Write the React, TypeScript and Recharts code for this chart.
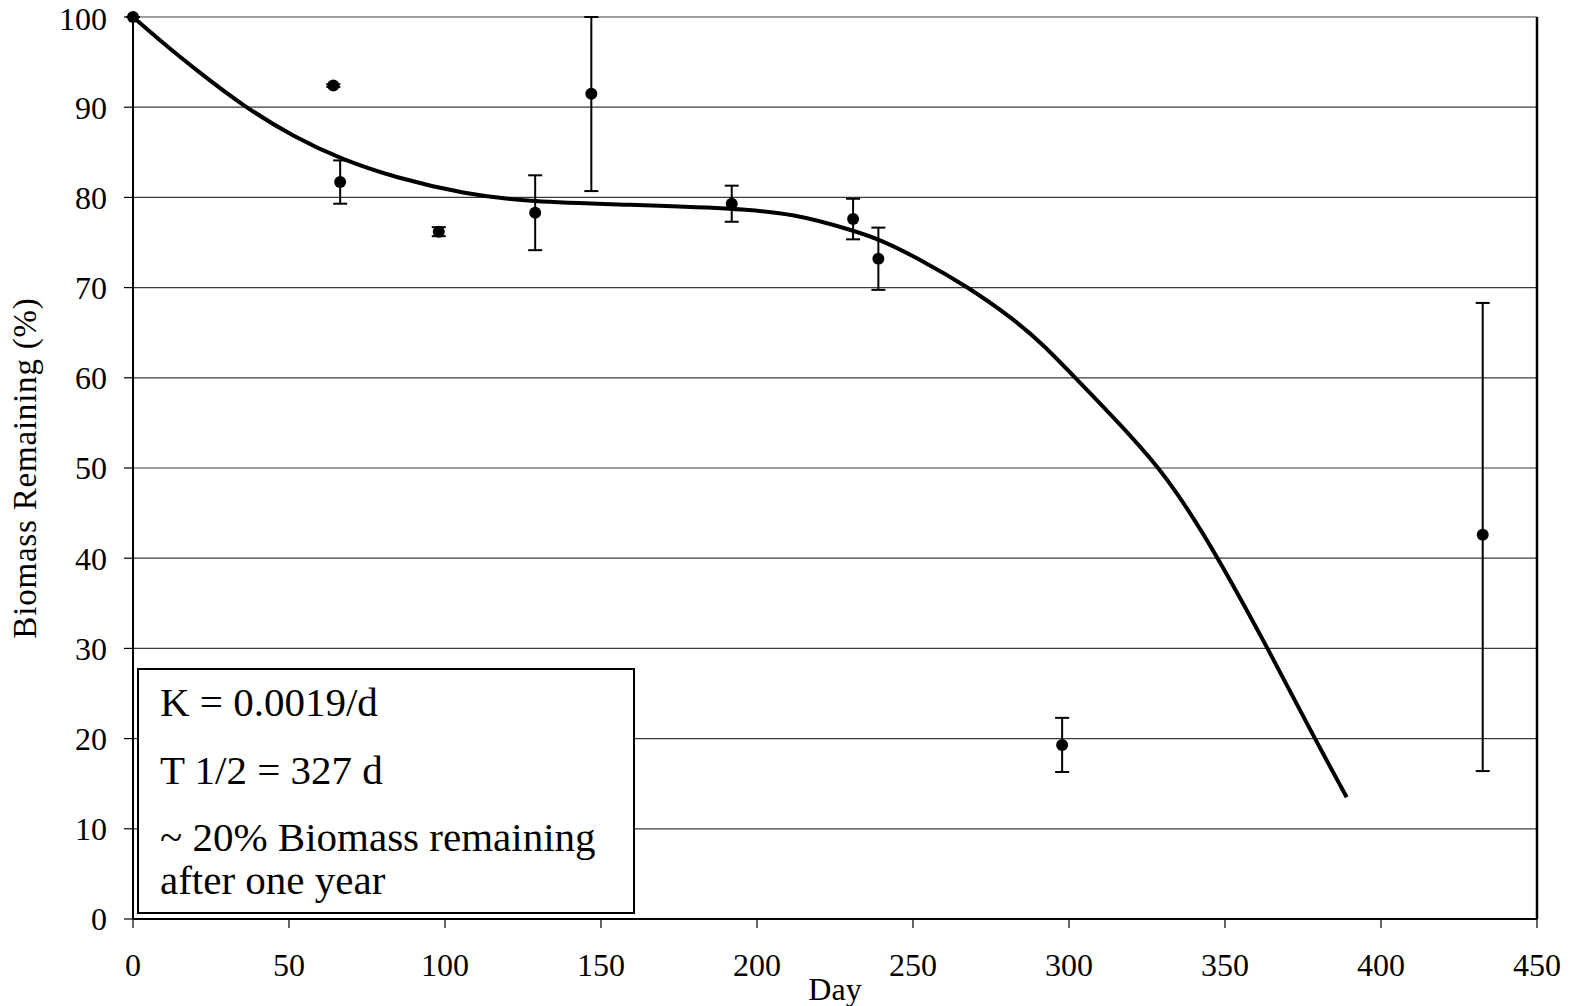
import {
  ComposedChart,
  Line,
  Scatter,
  ErrorBar,
  XAxis,
  YAxis,
  CartesianGrid,
  ReferenceLine,
} from 'recharts';

// measured samples (day, % biomass remaining, error below / above)
const sampleDays = [0, 64.2, 66.4, 98, 128.9, 146.9, 191.9, 230.8, 238.9, 297.8, 432.6];
const remaining = [100, 92.4, 81.7, 76.2, 78.3, 91.5, 79.3, 77.6, 73.2, 19.3, 42.6];
const errLow = [0, 0.15, 2.4, 0.5, 4.15, 10.8, 2.0, 2.25, 3.45, 3.0, 26.2];
const errHigh = [0, 0.15, 2.4, 0.5, 4.15, 8.5, 2.0, 2.25, 3.45, 3.0, 25.7];

// fitted decay curve
const fitDays = [0, 10, 20, 35, 52, 67, 84, 106, 127, 159, 192, 212, 231, 239, 253, 267, 282, 292, 302, 316, 329, 338, 347, 363, 378, 389];
const fitValues = [100, 97.0, 94.2, 90.2, 86.6, 84.2, 82.2, 80.4, 79.5, 79.2, 78.8, 78.2, 76.3, 75.4, 73.0, 70.2, 66.6, 63.6, 60.0, 55.0, 50.0, 45.5, 40.5, 30.5, 20.5, 13.5];

const dayTicks = [0, 50, 100, 150, 200, 250, 300, 350, 400, 450];
const pctTicks = [0, 10, 20, 30, 40, 50, 60, 70, 80, 90, 100];

const noteLines = ['K = 0.0019/d', 'T 1/2 = 327 d', '~ 20% Biomass remaining', 'after one year'];

const FONT = '"Liberation Serif", "Times New Roman", serif';

const points = sampleDays.map((day, i) => ({
  day,
  value: remaining[i],
  err: [errLow[i], errHigh[i]],
}));
const fitCurve = fitDays.map((day, i) => ({ day, value: fitValues[i] }));

function YLabel(props: any) {
  const vb = props.viewBox || { x: 0, y: 17, width: 133, height: 902 };
  const cy = vb.y + vb.height / 2;
  return (
    <text
      transform={`translate(36,${cy}) rotate(-90)`}
      textAnchor="middle"
      fontFamily={FONT}
      fontSize={33}
      letterSpacing={0.8}
      fill="#000"
    >
      Biomass Remaining (%)
    </text>
  );
}

export default function App() {
  return (
    <div style={{ position: 'absolute', left: 0, top: 0, width: 1574, height: 1006, background: '#fff' }}>
      <ComposedChart
        width={1574}
        height={1006}
        margin={{ top: 17, right: 37, bottom: 0, left: 0 }}
      >
        <CartesianGrid horizontal vertical={false} stroke="#3a3a3a" strokeWidth={1.2} />
        <XAxis
          dataKey="day"
          type="number"
          domain={[0, 450]}
          ticks={dayTicks}
          height={87}
          stroke="#000"
          axisLine={{ stroke: '#000', strokeWidth: 2 }}
          tickLine={{ stroke: '#000', strokeWidth: 1.2 }}
          tickSize={9}
          tickMargin={25}
          tick={{ fontFamily: FONT, fontSize: 32, fill: '#000' }}
          label={{ value: 'Day', position: 'insideBottom', offset: 6, fontFamily: FONT, fontSize: 32, fill: '#000' }}
        />
        <YAxis
          dataKey="value"
          type="number"
          domain={[0, 100]}
          ticks={pctTicks}
          width={133}
          axisLine={{ stroke: '#000', strokeWidth: 2 }}
          tickLine={{ stroke: '#000', strokeWidth: 1.2 }}
          tickSize={9}
          tickMargin={17}
          tick={{ fontFamily: FONT, fontSize: 32, fill: '#000' }}
          label={{ content: (p: any) => <YLabel {...p} /> }}
        />
        <ReferenceLine x={450} stroke="#000" strokeWidth={2.5} />
        <Line
          data={fitCurve}
          dataKey="value"
          type="basis"
          stroke="#000"
          strokeWidth={4}
          dot={false}
          activeDot={false}
          isAnimationActive={false}
        />
        <Scatter
          data={points}
          dataKey="value"
          fill="#000"
          isAnimationActive={false}
          shape={(p: any) => <circle cx={p.cx} cy={p.cy} r={6} fill="#000" />}
        >
          <ErrorBar dataKey="err" direction="y" width={7} stroke="#000" strokeWidth={2} />
        </Scatter>
      </ComposedChart>
      <svg
        width={1574}
        height={1006}
        style={{ position: 'absolute', left: 0, top: 0, pointerEvents: 'none' }}
      >
        <rect x={138} y={669} width={496} height={244} fill="#fff" stroke="#000" strokeWidth={2} />
        {noteLines.map((t, i) => (
          <text key={t} x={160} y={[716, 784, 851, 894][i]} fontFamily={FONT} fontSize={41} fill="#000">
            {t}
          </text>
        ))}
      </svg>
    </div>
  );
}
